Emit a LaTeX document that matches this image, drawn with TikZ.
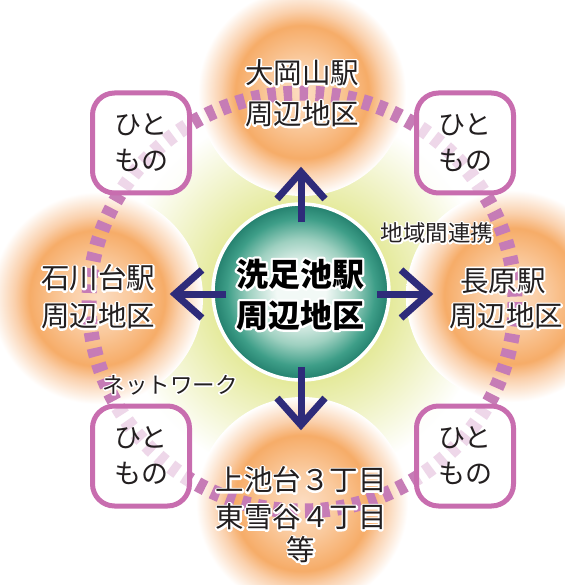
\documentclass[tikz,border=0pt]{standalone}
\usepackage{fontspec}
\setmainfont{Noto Sans CJK JP}
\usetikzlibrary{calc}

\definecolor{blob0}{HTML}{FCDDC2}
\definecolor{blobA}{HTML}{FACA9E}
\definecolor{blobB}{HTML}{F6AC68}
\definecolor{blobC}{HTML}{FAD0AC}
\definecolor{glowA}{HTML}{E5EA9C}
\definecolor{tealA}{HTML}{F2F9F6}
\definecolor{tealB}{HTML}{9ED0C0}
\definecolor{tealC}{HTML}{3E9E88}
\definecolor{tealD}{HTML}{237F6D}
\definecolor{ringc}{HTML}{C67CB6}
\definecolor{boxc}{HTML}{C86DAF}
\definecolor{navy}{HTML}{2E2B7A}
\definecolor{ink}{HTML}{231F20}

\pgfdeclareradialshading{blobsh}{\pgfpoint{0bp}{0bp}}{color(0bp)=(blob0);color(8bp)=(blobA);color(16bp)=(blobB);color(19.5bp)=(blobC);color(25bp)=(white);color(50bp)=(white)}
\pgfdeclareradialshading{glowsh}{\pgfpoint{0bp}{0bp}}{color(0bp)=(glowA);color(12bp)=(glowA);color(25bp)=(white);color(50bp)=(white)}
\pgfdeclareradialshading{spheresh}{\pgfpoint{0bp}{0bp}}{color(0bp)=(tealA);color(7bp)=(tealA);color(15bp)=(tealB);color(21bp)=(tealC);color(25bp)=(tealD);color(50bp)=(tealD)}

% white outline behind text: one stroked copy, then the filled text
\newcommand\hlo[2][3.6]{\leavevmode\hbox{\rlap{\special{pdf:literal direct q 1 Tr #1 w 1 j 1 J}{\color{white}#2}\special{pdf:literal direct Q}}#2}}

\tikzset{
  lbl/.style={inner sep=0, text=ink, font=\fontsize{28.5}{34}\selectfont},
  small/.style={inner sep=0, text=ink, font=\fontsize{22.5}{27}\selectfont},
  ctr/.style={inner sep=0, text=black, font=\fontsize{32}{40}\selectfont\bfseries},
  hitobox/.style={draw=boxc, line width=5, rounded corners=22, fill=white, fill opacity=0.7,
    text opacity=1, text=ink, minimum width=97, minimum height=100, align=center,
    font=\fontsize{27}{36}\selectfont, inner sep=0},
  ringst/.style={draw=ringc, line width=15, dash pattern=on 8.5pt off 7.5pt},
  arr/.style={draw=navy, line width=7, line join=miter},
}

\begin{document}
\begin{tikzpicture}[x=1pt, y=-1pt]
\useasboundingbox (0,0) rectangle (564,585);
\fill[white] (0,0) rectangle (564,585);

% glows
\shade[shading=glowsh] (302,294) circle[radius=185];
\shade[shading=blobsh] (302,92) circle[radius=104];
\shade[shading=blobsh] (97,298) circle[radius=106];
\shade[shading=blobsh] (512,296) circle[radius=106];
\shade[shading=blobsh] (302,503) circle[radius=106];

% dashed network ring
\draw[ringst] (302,302) ellipse[x radius=213, y radius=209];

% boxes
\node[hitobox] (b1) at (141,143) {ひと\\もの};
\node[hitobox] (b2) at (465,143) {ひと\\もの};
\node[hitobox] (b3) at (141,456) {ひと\\もの};
\node[hitobox] (b4) at (465,456) {ひと\\もの};

% central sphere
\node[circle, minimum size=176, inner sep=0, shading=spheresh, draw=white, line width=3.5] (cc) at (301,292) {};

% arrows
\coordinate (tU) at (301,172);
\coordinate (tD) at (301,425);
\coordinate (tL) at (175,294);
\coordinate (tR) at (428,294);
\draw[arr] ([yshift=-20pt]cc.north) -- (tU);
\draw[arr] ($(tU)+(-24,27)$) -- (tU) -- ($(tU)+(24,27)$);
\draw[arr] ([yshift=15pt]cc.south) -- (tD);
\draw[arr] ($(tD)+(-24,-27)$) -- (tD) -- ($(tD)+(24,-27)$);
\draw[arr] ([xshift=15pt]cc.west |- tL) -- (tL);
\draw[arr] ($(tL)+(27,-24)$) -- (tL) -- ($(tL)+(27,24)$);
\draw[arr] ([xshift=-14pt]cc.east |- tR) -- (tR);
\draw[arr] ($(tR)+(-27,-24)$) -- (tR) -- ($(tR)+(-27,24)$);

% centre text
\node[ctr] (c1) at (300,274) {\hlo[4.5]{洗足池駅}};
\node[ctr] (c2) at (300,315) {\hlo[4.5]{周辺地区}};

% area labels
\node[lbl] (n1) at (302,73) {\hlo{大岡山駅}};
\node[lbl] (n2) at (302,114) {\hlo{周辺地区}};
\node[lbl] (w1) at (98,278) {\hlo{石川台駅}};
\node[lbl] (w2) at (98,316) {\hlo{周辺地区}};
\node[lbl] (e1) at (503,281) {\hlo{長原駅}};
\node[lbl] (e2) at (506,316) {\hlo{周辺地区}};
\node[lbl] (s1) at (301,480) {\hlo{上池台３丁目}};
\node[lbl] (s2) at (301,517) {\hlo{東雪谷４丁目}};
\node[lbl] (s3) at (301,550) {\hlo{等}};

% small labels
\node[small] (k1) at (437,233) {\hlo[3]{地域間連携}};
\node[small] (k2) at (170,385) {\hlo[3]{ネットワーク}};
\end{tikzpicture}
\end{document}
